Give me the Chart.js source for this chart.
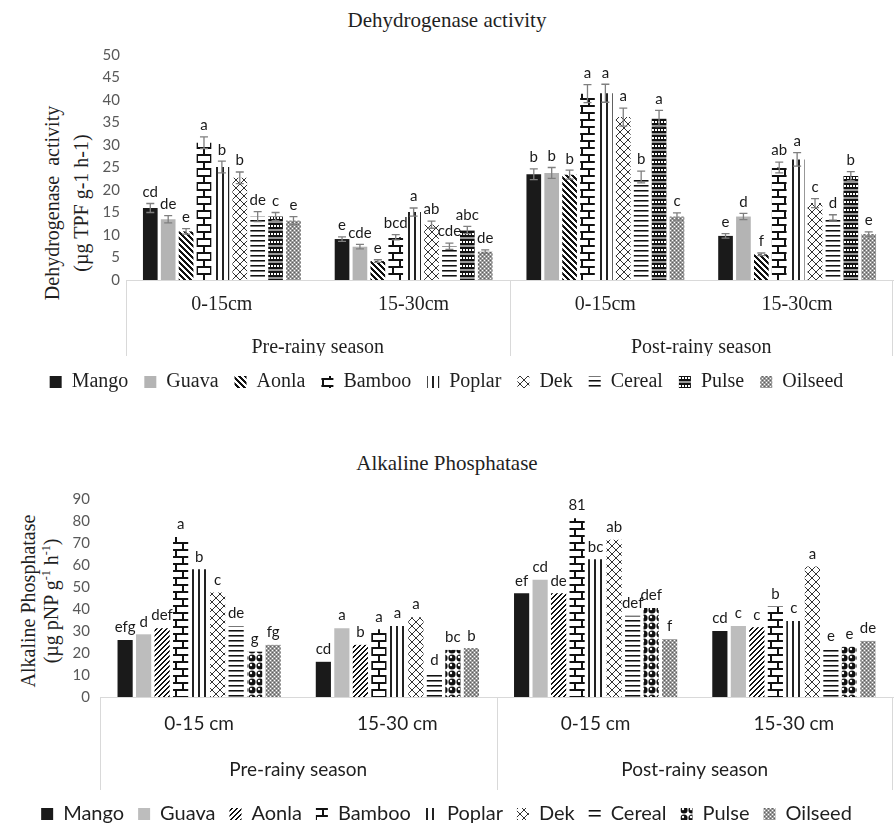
<!DOCTYPE html>
<html>
<head>
<meta charset="utf-8">
<script src="https://cdn.jsdelivr.net/npm/chart.js@4.4.1/dist/chart.umd.min.js"></script>
<style>
  body { margin: 0; background: #fff; width: 894px; height: 831px; position: relative; overflow: hidden; }
  .chartbox { position: absolute; left: 0; width: 894px; }
  .title { position: absolute; left: 0; width: 894px; text-align: center; font-family: "Liberation Serif", serif;
           font-size: 21px; line-height: 24px; color: #1f1f1f; }
  .ytitle { position: absolute; transform: rotate(-90deg); text-align: center; white-space: nowrap;
            font-family: "Liberation Serif", serif; font-size: 20px; color: #1f1f1f; }
  .ytitle sup { font-size: 12px; line-height: 0; }
</style>
</head>
<body>

<div class="title" style="top:8px">Dehydrogenase activity</div>
<div class="ytitle" style="left:-93px; top:174px; width:320px; height:58px; line-height:29px">Dehydrogenase&nbsp; activity<br>(µg TPF g-1 h-1)</div>
<div class="chartbox" style="top:0; height:420px"><canvas id="dh" width="894" height="420"></canvas></div>

<div class="title" style="top:451px">Alkaline Phosphatase</div>
<div class="ytitle" style="left:-120px; top:578px; width:320px; height:46px; line-height:23px">Alkaline Phosphatase<br>(µg pNP g<sup>-1</sup> h<sup>-1</sup>)</div>
<div class="chartbox" style="top:430px; height:420px"><canvas id="ap" width="894" height="420"></canvas></div>

<script>
// categories
const crops = ['Mango', 'Guava', 'Aonla', 'Bamboo', 'Poplar', 'Dek', 'Cereal', 'Pulse', 'Oilseed'];
const dhDepths = ['0-15cm', '15-30cm', '0-15cm', '15-30cm'];
const apDepths = ['0-15 cm', '15-30 cm', '0-15 cm', '15-30 cm'];
const seasons = ['Pre-rainy season', 'Post-rainy season'];
const dhTicks = [0, 5, 10, 15, 20, 25, 30, 35, 40, 45, 50];
const apTicks = [0, 10, 20, 30, 40, 50, 60, 70, 80, 90];

// Dehydrogenase: pre 0-15, pre 15-30, post 0-15, post 15-30
const dhMango   = [16.0, 9.1, 23.5, 9.8];
const dhGuava   = [13.5, 7.4, 23.8, 14.1];
const dhAonla   = [10.8, 4.2, 23.4, 5.7];
const dhBamboo  = [30.5, 9.5, 41.4, 25.0];
const dhPoplar  = [25.1, 15.1, 41.5, 26.8];
const dhDek     = [22.7, 12.3, 36.2, 17.1];
const dhCereal  = [14.1, 7.5, 22.9, 13.9];
const dhPulse   = [14.1, 11.1, 35.9, 23.1];
const dhOilseed = [13.2, 6.3, 14.1, 10.2];

// standard errors
const seMango   = [1.0, 0.5, 1.2, 0.5];
const seGuava   = [0.8, 0.5, 1.2, 0.7];
const seAonla   = [0.6, 0.3, 1.0, 0.3];
const seBamboo  = [1.3, 0.6, 2.0, 1.2];
const sePoplar  = [1.3, 0.9, 2.0, 1.5];
const seDek     = [1.3, 0.8, 2.0, 1.0];
const seCereal  = [1.1, 0.7, 1.3, 0.6];
const sePulse   = [0.9, 0.8, 1.8, 1.0];
const seOilseed = [0.9, 0.4, 0.8, 0.5];

// letters over the bars
const dlMango   = ['cd', 'e', 'b', 'e'];
const dlGuava   = ['de', 'cde', 'b', 'd'];
const dlAonla   = ['e', 'e', 'b', 'f'];
const dlBamboo  = ['a', 'bcd', 'a', 'ab'];
const dlPoplar  = ['b', 'a', 'a', 'a'];
const dlDek     = ['b', 'ab', 'a', 'c'];
const dlCereal  = ['de', 'cde', 'b', 'd'];
const dlPulse   = ['c', 'abc', 'a', 'b'];
const dlOilseed = ['e', 'de', 'c', 'e'];

// Alkaline phosphatase
const apMango   = [25.9, 16.0, 47.2, 30.0];
const apGuava   = [28.5, 31.3, 53.3, 32.3];
const apAonla   = [31.3, 23.7, 47.2, 31.7];
const apBamboo  = [72.7, 30.8, 81.3, 41.1];
const apPoplar  = [58.1, 32.3, 62.6, 34.6];
const apDek     = [47.5, 36.3, 71.5, 59.3];
const apCereal  = [32.3, 11.0, 36.9, 22.2];
const apPulse   = [20.6, 21.4, 40.4, 22.9];
const apOilseed = [23.7, 22.2, 26.3, 25.5];

const alMango   = ['efg', 'cd', 'ef', 'cd'];
const alGuava   = ['d', 'a', 'cd', 'c'];
const alAonla   = ['def', 'b', 'de', 'c'];
const alBamboo  = ['a', 'a', '81', 'b'];
const alPoplar  = ['b', 'a', 'bc', 'c'];
const alDek     = ['c', 'a', 'ab', 'a'];
const alCereal  = ['de', 'd', 'def', 'e'];
const alPulse   = ['g', 'bc', 'def', 'e'];
const alOilseed = ['fg', 'b', 'f', 'de'];

const dhSeries = [dhMango, dhGuava, dhAonla, dhBamboo, dhPoplar, dhDek, dhCereal, dhPulse, dhOilseed];
const seSeries = [seMango, seGuava, seAonla, seBamboo, sePoplar, seDek, seCereal, sePulse, seOilseed];
const dlSeries = [dlMango, dlGuava, dlAonla, dlBamboo, dlPoplar, dlDek, dlCereal, dlPulse, dlOilseed];
const apSeries = [apMango, apGuava, apAonla, apBamboo, apPoplar, apDek, apCereal, apPulse, apOilseed];
const alSeries = [alMango, alGuava, alAonla, alBamboo, alPoplar, alDek, alCereal, alPulse, alOilseed];

// ---- fill patterns (excel style) ----
function makeTile(w, h, paint) {
  const c = document.createElement('canvas');
  c.width = w; c.height = h;
  const g = c.getContext('2d');
  g.fillStyle = '#fff';
  g.fillRect(0, 0, w, h);
  paint(g);
  return g.createPattern(c, 'repeat');
}

function stripes(dir, size, thick) {
  return makeTile(size, size, g => {
    g.fillStyle = '#111';
    for (let y = 0; y < size; y++) {
      for (let k = 0; k < thick; k++) {
        const x = dir > 0 ? (y + k) % size : (2 * size - 1 - y + k) % size;
        g.fillRect(x, y, 1, 1);
      }
    }
  });
}

const brick = makeTile(14, 14, g => {
  g.fillStyle = '#111';
  g.fillRect(0, 0, 14, 2);
  g.fillRect(0, 7, 14, 2);
  g.fillRect(0, 0, 2, 7);
  g.fillRect(7, 7, 2, 7);
});
const vlines = makeTile(6, 2, g => { g.fillStyle = '#222'; g.fillRect(0, 0, 2, 2); });
const hlines = makeTile(2, 5, g => {
  g.fillStyle = '#111'; g.fillRect(0, 0, 2, 1);
  g.fillStyle = '#777'; g.fillRect(0, 1, 2, 1);
});
const diamond = makeTile(8, 8, g => {
  g.fillStyle = '#333';
  for (let i = 0; i < 8; i++) { g.fillRect(i, i, 1, 1); g.fillRect(7 - i, i, 1, 1); }
});
const plaid = makeTile(6, 8, g => {
  g.fillStyle = '#111'; g.fillRect(0, 0, 6, 8);
  g.fillStyle = '#fff';
  g.fillRect(1, 1, 2, 2); g.fillRect(4, 1, 2, 2);
  g.fillStyle = '#999'; g.fillRect(0, 5, 6, 2);
});
const sphere = makeTile(8, 8, g => {
  g.fillStyle = '#111';
  g.beginPath(); g.arc(4, 4, 3.6, 0, Math.PI * 2); g.fill();
  g.fillStyle = '#fff';
  g.beginPath(); g.arc(3, 3, 1.2, 0, Math.PI * 2); g.fill();
});
const speckle = makeTile(4, 4, g => {
  g.fillStyle = '#9a9a9a'; g.fillRect(0, 0, 4, 4);
  g.fillStyle = '#fff'; g.fillRect(0, 0, 1, 1); g.fillRect(2, 2, 1, 1);
  g.fillStyle = '#5e5e5e'; g.fillRect(2, 0, 1, 1); g.fillRect(0, 2, 1, 1);
});

const dhFills = ['#1a1a1a', '#b4b4b4', stripes(1, 6, 3), brick, vlines, diamond, hlines, plaid, speckle];
const apFills = ['#1a1a1a', '#bdbdbd', stripes(-1, 5, 2), brick, vlines, diamond, hlines, sphere, speckle];

// error bars, letters and the multi-level axis dividers
function marks(errors, letters, font, gap) {
  return {
    id: 'marks',
    afterDatasetsDraw(chart) {
      const ctx = chart.ctx;
      const y = chart.scales.y;
      ctx.save();
      chart.data.datasets.forEach((ds, i) => {
        chart.getDatasetMeta(i).data.forEach((bar, j) => {
          const v = ds.data[j];
          let top = v;
          if (errors) {
            const e = errors[i][j];
            const y1 = y.getPixelForValue(v + e), y2 = y.getPixelForValue(v - e);
            ctx.strokeStyle = '#7f7f7f';
            ctx.lineWidth = 1.3;
            ctx.beginPath();
            ctx.moveTo(bar.x, y1); ctx.lineTo(bar.x, y2);
            ctx.moveTo(bar.x - 4, y1); ctx.lineTo(bar.x + 4, y1);
            ctx.moveTo(bar.x - 4, y2); ctx.lineTo(bar.x + 4, y2);
            ctx.stroke();
            top = v + e;
          }
          ctx.fillStyle = '#1a1a1a';
          ctx.font = font;
          ctx.textAlign = 'center';
          ctx.textBaseline = 'bottom';
          ctx.fillText(letters[i][j], bar.x, y.getPixelForValue(top) - gap);
        });
      });
      const xs = chart.scales.x, x2 = chart.scales.x2, a = chart.chartArea;
      const mid = (xs.getPixelForValue(1) + xs.getPixelForValue(2)) / 2;
      ctx.strokeStyle = '#d9d9d9';
      ctx.lineWidth = 1;
      [a.left, mid, a.right - 1].forEach(p => {
        ctx.beginPath();
        ctx.moveTo(Math.round(p) + 0.5, a.bottom);
        ctx.lineTo(Math.round(p) + 0.5, x2.bottom);
        ctx.stroke();
      });
      ctx.restore();
    }
  };
}

function makeChart(id, o) {
  const datasets = crops.map((c, i) => ({
    label: c,
    data: o.series[i],
    backgroundColor: o.fills[i],
    borderWidth: 0,
    categoryPercentage: 0.84,
    barPercentage: 0.82
  }));
  return new Chart(document.getElementById(id), {
    type: 'bar',
    data: { labels: o.depths, datasets: datasets },
    options: {
      responsive: false,
      animation: false,
      events: [],
      layout: { padding: { top: o.padTop, bottom: o.padBottom, left: 0, right: 1 } },
      scales: {
        y: {
          min: 0, max: o.ticks[o.ticks.length - 1],
          afterBuildTicks: s => { s.ticks = o.ticks.map(v => ({ value: v })); },
          afterFit: s => { s.width = o.yWidth; },
          grid: { display: false, drawTicks: false },
          border: { display: false },
          ticks: { font: { family: 'Lato', size: 15 }, color: '#595959', padding: o.tickPad }
        },
        x: {
          offset: true,
          afterFit: s => { s.height = o.xHeight; },
          grid: { display: false, drawTicks: false },
          border: { color: '#d9d9d9' },
          ticks: { font: o.axisFont, color: '#1f1f1f', padding: o.xPad, maxRotation: 0 }
        },
        x2: {
          type: 'category',
          labels: seasons,
          position: 'bottom',
          offset: true,
          afterFit: s => { s.height = o.x2Height; },
          grid: { display: false, drawTicks: false },
          border: { display: false },
          ticks: { font: o.axisFont, color: '#1f1f1f', padding: o.x2Pad, maxRotation: 0 }
        }
      },
      plugins: {
        legend: {
          position: 'bottom',
          labels: { font: o.legendFont, color: '#1f1f1f', boxWidth: 12, boxHeight: 12, padding: o.legendPad }
        },
        tooltip: { enabled: false }
      }
    },
    plugins: [marks(o.errors, o.letters, '15px Lato', o.gap)]
  });
}

makeChart('dh', {
  series: dhSeries, errors: seSeries, letters: dlSeries, fills: dhFills,
  depths: dhDepths, ticks: dhTicks,
  padTop: 55, padBottom: 18, yWidth: 126, tickPad: 6,
  xHeight: 44, xPad: 13, x2Height: 32, x2Pad: 12, gap: 4, legendPad: 16,
  axisFont: { family: 'Liberation Serif', size: 20 },
  legendFont: { family: 'Liberation Serif', size: 20 }
});

makeChart('ap', {
  series: apSeries, errors: null, letters: alSeries, fills: apFills,
  depths: apDepths, ticks: apTicks,
  padTop: 69, padBottom: 16, yWidth: 100, tickPad: 10,
  xHeight: 45, xPad: 15, x2Height: 48, x2Pad: 16, gap: 5, legendPad: 14,
  axisFont: { family: 'Lato', size: 19 },
  legendFont: { family: 'Lato', size: 20 }
});
</script>
</body>
</html>
